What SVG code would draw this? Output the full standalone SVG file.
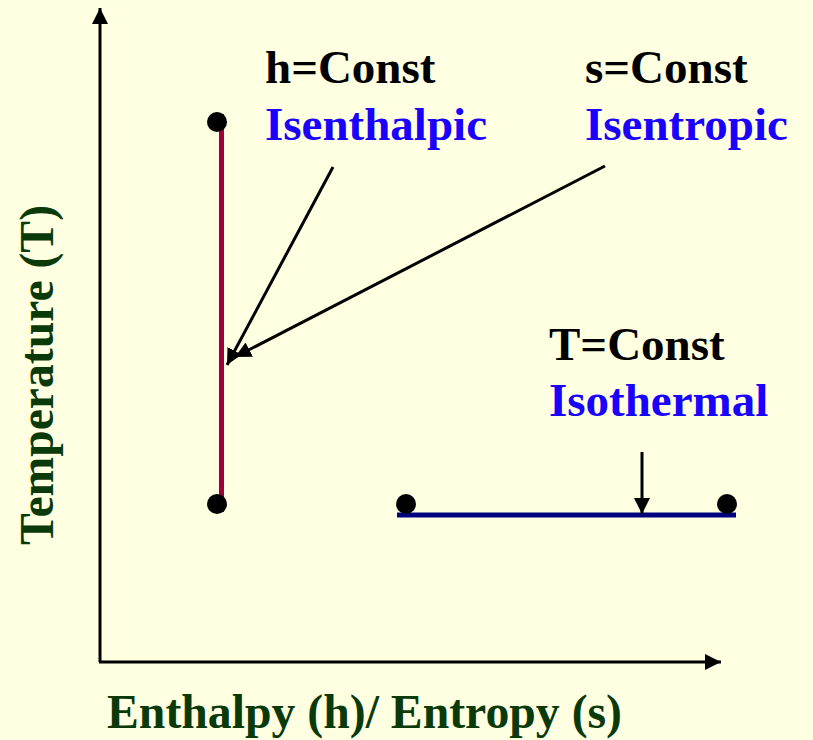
<svg xmlns="http://www.w3.org/2000/svg" width="813" height="740" viewBox="0 0 813 740">
<style>
.lbl{font-family:"Liberation Serif","Times New Roman",serif;font-weight:bold;font-size:47px}
.blk{fill:#000}
.blu{fill:#1A00FF}
.axt{font-family:"Liberation Serif","Times New Roman",serif;font-weight:bold;font-size:48px;fill:#0A3A0A}
.ax{stroke:#000;stroke-width:3;fill:none}
.ptr{stroke:#000;stroke-width:3;fill:none}
.dot{fill:#000}
</style>
<defs>
<marker id="ah" markerUnits="userSpaceOnUse" markerWidth="18" markerHeight="16" refX="16" refY="8" orient="auto">
<path d="M0,0 L16,8 L0,16 Z" fill="#000"/>
</marker>
</defs>
<rect width="813" height="740" fill="#FFFFE1"/>
<g id="axes">
<line class="ax" x1="100" y1="662" x2="100" y2="8" marker-end="url(#ah)"/>
<line class="ax" x1="99" y1="662" x2="721" y2="662" marker-end="url(#ah)"/>
</g>
<g id="axis-labels">
<text class="axt" x="107" y="728" textLength="515" lengthAdjust="spacingAndGlyphs">Enthalpy (h)/ Entropy (s)</text>
<text class="axt" transform="translate(53,545) rotate(-90)" textLength="340" lengthAdjust="spacingAndGlyphs">Temperature (T)</text>
</g>
<g id="isenthalpic-line">
<line x1="221.5" y1="114" x2="221.5" y2="512" stroke="#A0003C" stroke-width="5"/>
<circle class="dot" cx="217" cy="122" r="10"/>
<circle class="dot" cx="217" cy="504" r="10"/>
</g>
<g id="isothermal-line">
<line x1="397" y1="515" x2="736" y2="515" stroke="#000080" stroke-width="5"/>
<circle class="dot" cx="406" cy="504" r="10"/>
<circle class="dot" cx="727" cy="504" r="10"/>
</g>
<g id="label-h">
<text class="lbl blk" x="265" y="83">h=Const</text>
<text class="lbl blu" x="265" y="140">Isenthalpic</text>
</g>
<g id="label-s">
<text class="lbl blk" x="585" y="83">s=Const</text>
<text class="lbl blu" x="585" y="140">Isentropic</text>
</g>
<g id="label-T">
<text class="lbl blk" x="549" y="360">T=Const</text>
<text class="lbl blu" x="549" y="416">Isothermal</text>
</g>
<g id="connectors">
<line class="ptr" x1="333" y1="167" x2="227" y2="365" marker-end="url(#ah)"/>
<line class="ptr" x1="605" y1="166" x2="235" y2="357" marker-end="url(#ah)"/>
<line class="ptr" x1="642" y1="452" x2="642" y2="514" marker-end="url(#ah)"/>
</g>
</svg>
